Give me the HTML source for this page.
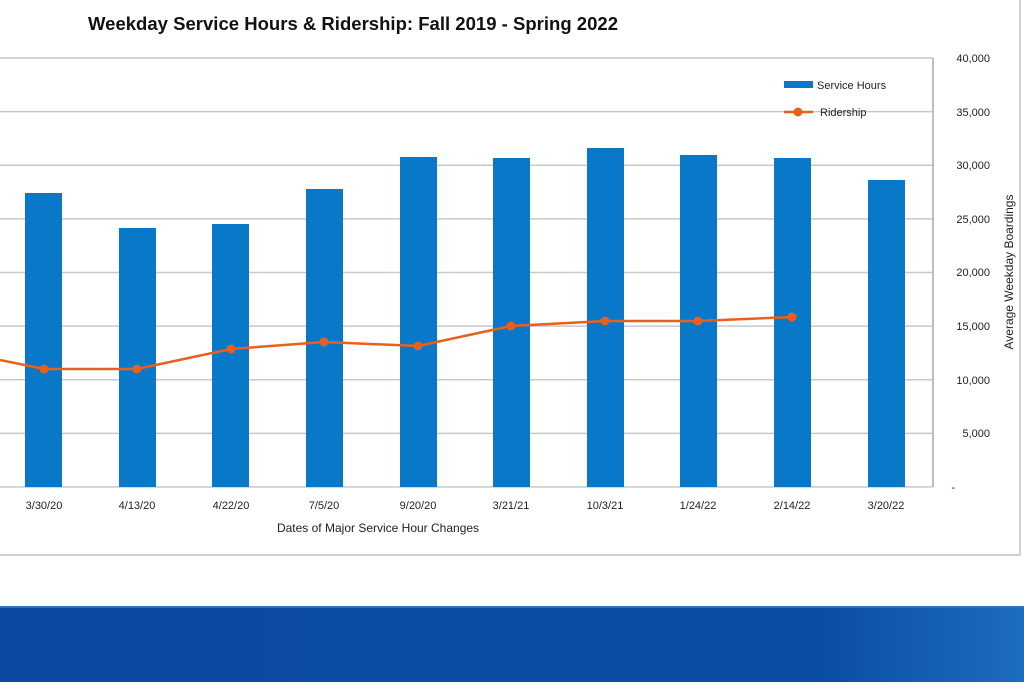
<!DOCTYPE html><html><head><style>
body{margin:0;width:1024px;height:682px;overflow:hidden;background:#fff;font-family:"Liberation Sans",sans-serif}
</style></head><body>
<svg width="1024" height="682" style="position:absolute;left:0;top:0">
<rect x="0" y="0" width="1020" height="555" fill="#fff"/>
<line x1="1020" y1="0" x2="1020" y2="556" stroke="#d0d0d0" stroke-width="2"/>
<line x1="0" y1="555" x2="1021" y2="555" stroke="#d0d0d0" stroke-width="2"/>
<text x="88" y="30" font-size="18.5" font-weight="bold" fill="#111" textLength="530">Weekday Service Hours &amp; Ridership: Fall 2019 - Spring 2022</text>
<g stroke="#c8c8c8" stroke-width="1.5">
<line x1="0" y1="58" x2="933" y2="58"/><line x1="0" y1="111.6" x2="933" y2="111.6"/>
<line x1="0" y1="165.2" x2="933" y2="165.2"/><line x1="0" y1="218.9" x2="933" y2="218.9"/>
<line x1="0" y1="272.5" x2="933" y2="272.5"/><line x1="0" y1="326.1" x2="933" y2="326.1"/>
<line x1="0" y1="379.8" x2="933" y2="379.8"/><line x1="0" y1="433.4" x2="933" y2="433.4"/>
<line x1="0" y1="487" x2="933" y2="487"/>
</g>
<line x1="933" y1="58" x2="933" y2="487" stroke="#aaa" stroke-width="1.5"/>
<g fill="#0a78c8">
<rect x="25" y="193" width="37" height="294"/><rect x="119" y="228" width="37" height="259"/>
<rect x="212" y="224" width="37" height="263"/><rect x="306" y="189" width="37" height="298"/>
<rect x="400" y="157" width="37" height="330"/><rect x="493" y="158" width="37" height="329"/>
<rect x="587" y="148" width="37" height="339"/><rect x="680" y="155" width="37" height="332"/>
<rect x="774" y="158" width="37" height="329"/><rect x="868" y="180" width="37" height="307"/>
</g>
<polyline fill="none" stroke="#e8601c" stroke-width="2.5" points="0,360 44,369 137,369 231,349 324,342 418,346 511,326 605,321 698,321 792,317"/>
<g fill="#e8601c"><circle cx="44" cy="369" r="4.5"/><circle cx="137" cy="369" r="4.5"/><circle cx="231" cy="349" r="4.5"/><circle cx="324" cy="342" r="4.5"/><circle cx="418" cy="346" r="4.5"/><circle cx="511" cy="326" r="4.5"/><circle cx="605" cy="321" r="4.5"/><circle cx="698" cy="321" r="4.5"/><circle cx="792" cy="317" r="4.5"/></g>
<rect x="784" y="81" width="29" height="7" fill="#0a78c8"/>
<text x="817" y="89" font-size="11" fill="#222">Service Hours</text>
<line x1="784" y1="112" x2="813" y2="112" stroke="#e8601c" stroke-width="2.5"/><circle cx="798" cy="112" r="4.5" fill="#e8601c"/>
<text x="820" y="116" font-size="11" fill="#222">Ridership</text>
<g font-size="11" fill="#222" text-anchor="end">
<text x="990" y="62">40,000</text><text x="990" y="116">35,000</text><text x="990" y="169">30,000</text>
<text x="990" y="223">25,000</text><text x="990" y="276">20,000</text><text x="990" y="330">15,000</text>
<text x="990" y="384">10,000</text><text x="990" y="437">5,000</text><text x="955" y="491">-</text>
</g>
<text transform="translate(1013,272) rotate(-90)" font-size="12" fill="#222" text-anchor="middle">Average Weekday Boardings</text>
<g font-size="11" fill="#222" text-anchor="middle">
<text x="44" y="509">3/30/20</text><text x="137" y="509">4/13/20</text><text x="231" y="509">4/22/20</text>
<text x="324" y="509">7/5/20</text><text x="418" y="509">9/20/20</text><text x="511" y="509">3/21/21</text>
<text x="605" y="509">10/3/21</text><text x="698" y="509">1/24/22</text><text x="792" y="509">2/14/22</text>
<text x="886" y="509">3/20/22</text>
</g>
<text x="378" y="532" font-size="12" fill="#222" text-anchor="middle">Dates of Major Service Hour Changes</text>
<defs><linearGradient id="g" x1="0" x2="1"><stop offset="0" stop-color="#0b4aa2"/><stop offset="0.8" stop-color="#0a4ca6"/><stop offset="1" stop-color="#1d6cc0"/></linearGradient></defs>
<rect x="0" y="607" width="1024" height="75" fill="url(#g)"/>
<line x1="0" y1="607" x2="1024" y2="607" stroke="#3a6fb8" stroke-width="2"/>
</svg>
</body></html>
